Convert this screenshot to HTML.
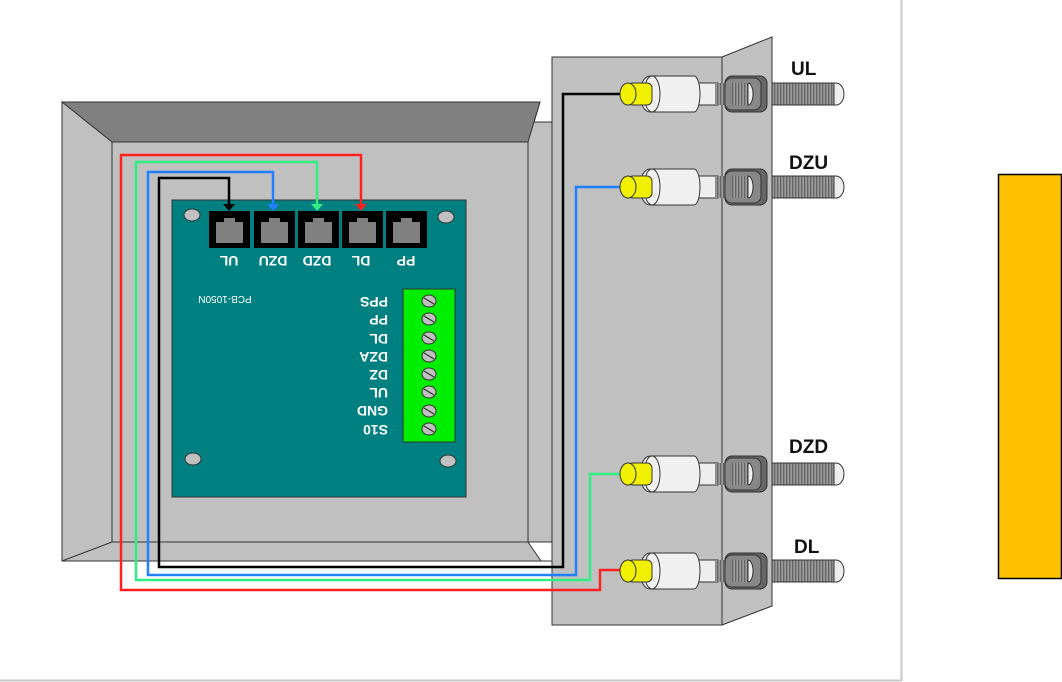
<!DOCTYPE html>
<html><head><meta charset="utf-8"><style>html,body{margin:0;padding:0;background:#fff}svg{display:block}</style></head><body>
<svg width="1062" height="682" viewBox="0 0 1062 682" xmlns="http://www.w3.org/2000/svg" font-family="Liberation Sans, sans-serif">
<rect width="1062" height="682" fill="#fff"/>
<line x1="901.5" y1="0" x2="901.5" y2="681" stroke="#c8c8c8" stroke-width="2"/>
<line x1="0" y1="680.5" x2="902" y2="680.5" stroke="#c8c8c8" stroke-width="2"/>
<rect x="998.5" y="174.5" width="63" height="404" fill="#ffc000" stroke="#000" stroke-width="1.5"/>

<!-- box -->
<polygon points="62,102 540,102 534,122 552,122 552,542 552,561 62,561" fill="#c0c0c0" stroke="#333" stroke-width="1"/>
<polygon points="62,102 540,102 528,142 112,142" fill="#808080" stroke="#333" stroke-width="1"/>
<line x1="112" y1="142" x2="112" y2="542" stroke="#333"/>
<line x1="528" y1="142" x2="528" y2="542" stroke="#333"/>
<line x1="112" y1="542" x2="62" y2="561" stroke="#333"/>
<line x1="112" y1="542" x2="528" y2="542" stroke="#333"/>
<polygon points="528,542 552,542 552,561 541,561" fill="#fff" stroke="#333" stroke-width="1"/>

<!-- bracket -->
<rect x="552" y="57" width="170" height="568" fill="#c0c0c0" stroke="#333"/>
<polygon points="722,57 772,37 772,606 722,625" fill="#c0c0c0" stroke="#333"/>

<!-- PCB -->
<rect x="172" y="200" width="294" height="297" fill="#008080" stroke="#333"/>
<g fill="#c0c0c0" stroke="#333">
<ellipse cx="192" cy="215" rx="8" ry="6"/><ellipse cx="446" cy="217" rx="8" ry="6"/>
<ellipse cx="193" cy="459" rx="8" ry="6"/><ellipse cx="448" cy="461" rx="8" ry="6"/>
</g>
<g>
<rect x="209" y="211" width="41" height="37" fill="#000"/>
<rect x="254" y="211" width="41" height="37" fill="#000"/>
<rect x="298" y="211" width="41" height="37" fill="#000"/>
<rect x="342" y="211" width="41" height="37" fill="#000"/>
<rect x="386" y="211" width="41" height="37" fill="#000"/>
<g fill="#808080">
<path d="M216,243 V222 H224 V218 H235 V222 H243 V243Z"/>
<path d="M261,243 V222 H269 V218 H280 V222 H288 V243Z"/>
<path d="M305,243 V222 H313 V218 H324 V222 H332 V243Z"/>
<path d="M349,243 V222 H357 V218 H368 V222 H376 V243Z"/>
<path d="M393,243 V222 H401 V218 H412 V222 H420 V243Z"/>
</g>
</g>
<g fill="#fff" font-weight="bold" font-size="14" text-anchor="middle">
<text transform="translate(229,256) rotate(180)">UL</text>
<text transform="translate(273,256) rotate(180)">DZU</text>
<text transform="translate(317,256) rotate(180)">DZD</text>
<text transform="translate(361,256) rotate(180)">DL</text>
<text transform="translate(406,256) rotate(180)">PP</text>
<text transform="translate(225,296) rotate(180)" font-weight="normal" font-size="10">PCB-1050N</text>
</g>
<g fill="#fff" font-weight="bold" font-size="14" text-anchor="start">
<text transform="translate(388,297) rotate(180)">PPS</text>
<text transform="translate(388,315) rotate(180)">PP</text>
<text transform="translate(388,334) rotate(180)">DL</text>
<text transform="translate(388,352) rotate(180)">DZA</text>
<text transform="translate(388,370) rotate(180)">DZ</text>
<text transform="translate(388,388) rotate(180)">UL</text>
<text transform="translate(388,406) rotate(180)">GND</text>
<text transform="translate(388,425) rotate(180)">S10</text>
</g>
<rect x="403" y="289" width="52" height="153" fill="#00ee00" stroke="#333"/>
<g fill="#c0c0c0" stroke="#333">
<ellipse cx="429" cy="301" rx="7" ry="6"/><ellipse cx="429" cy="319" rx="7" ry="6"/>
<ellipse cx="429" cy="338" rx="7" ry="6"/><ellipse cx="429" cy="356" rx="7" ry="6"/>
<ellipse cx="429" cy="374" rx="7" ry="6"/><ellipse cx="429" cy="392" rx="7" ry="6"/>
<ellipse cx="429" cy="411" rx="7" ry="6"/><ellipse cx="429" cy="429" rx="7" ry="6"/>
</g>
<g stroke="#333" stroke-width="1.2">
<line x1="424" y1="298" x2="434" y2="304"/><line x1="424" y1="316" x2="434" y2="322"/>
<line x1="424" y1="335" x2="434" y2="341"/><line x1="424" y1="353" x2="434" y2="359"/>
<line x1="424" y1="371" x2="434" y2="377"/><line x1="424" y1="389" x2="434" y2="395"/>
<line x1="424" y1="408" x2="434" y2="414"/><line x1="424" y1="426" x2="434" y2="432"/>
</g>

<!-- wires -->
<g fill="none" stroke-width="2.5">
<polyline points="361,206 361,155 121,155 121,590 600,590 600,570 622,570" stroke="#ff2020"/>
<polyline points="317,206 317,162 136,162 136,580 590,580 590,474 622,474" stroke="#30ee80"/>
<polyline points="273,206 273,172 148,172 148,575 576,575 576,187 622,187" stroke="#2080ff"/>
<polyline points="229,206 229,178 159,178 159,567 563,567 563,94 622,94" stroke="#000"/>
</g>
<polygon points="355,204 367,204 361,211" fill="#ff2020"/>
<polygon points="311,204 323,204 317,211" fill="#30ee80"/>
<polygon points="267,204 279,204 273,211" fill="#2080ff"/>
<polygon points="223,204 235,204 229,211" fill="#000"/>

<!-- connectors -->
<defs>
<pattern id="th" width="3" height="4" patternUnits="userSpaceOnUse"><rect width="3" height="4" fill="#999"/><rect width="1.3" height="4" fill="#666"/></pattern>
<g id="cn">
<rect x="772" y="-11" width="62" height="22" fill="url(#th)" stroke="#333"/>
<path d="M834,-11 h2 a8,11 0 0 1 0,22 h-2Z" fill="#eee" stroke="#333"/>
<rect x="698" y="-11" width="20" height="22" fill="#eee" stroke="#333"/>
<rect x="715" y="-11" width="20" height="22" fill="url(#th)"/>
<rect x="725" y="-18" width="42" height="36" rx="7" fill="#666" stroke="#333"/>
<rect x="725" y="-16" width="36" height="32" rx="7" fill="#888" stroke="#333"/>
<rect x="732" y="-11" width="20" height="22" fill="url(#th)"/>
<path d="M748,-11 a5,11 0 0 1 0,22Z" fill="#eee" stroke="#333"/>
<path d="M650,-18 h44 a6,18 0 0 1 0,36 h-44 a10,18 0 0 1 0,-36Z" fill="#f0f0f0" stroke="#333"/>
<ellipse cx="652" cy="0" rx="8" ry="18" fill="#f0f0f0" stroke="#333"/>
<rect x="628" y="-11" width="24" height="22" rx="5" fill="#f0f000" stroke="#333"/>
<ellipse cx="628" cy="0" rx="8" ry="11" fill="#f0f000" stroke="#333"/>
</g>
</defs>
<use href="#cn" y="94"/>
<use href="#cn" y="187"/>
<use href="#cn" y="474"/>
<use href="#cn" y="571"/>
<g font-weight="bold" font-size="19" fill="#111">
<text x="791" y="75">UL</text>
<text x="789" y="169">DZU</text>
<text x="789" y="453">DZD</text>
<text x="794" y="553">DL</text>
</g>
</svg>
</body></html>
